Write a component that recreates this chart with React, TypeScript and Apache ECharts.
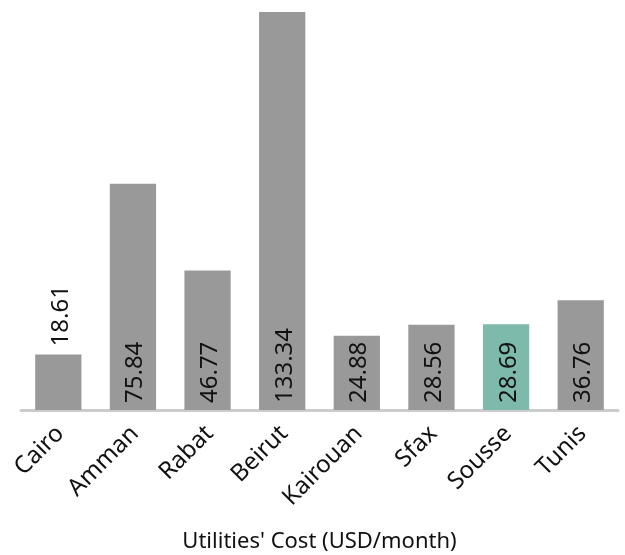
import React, { useEffect, useRef } from "react";
import * as echarts from "echarts";

const cities = ["Cairo", "Amman", "Rabat", "Beirut", "Kairouan", "Sfax", "Sousse", "Tunis"];
const costs = [18.61, 75.84, 46.77, 133.34, 24.88, 28.56, 28.69, 36.76];
const highlightCity = "Sousse";
const axisTitle = "Utilities' Cost (USD/month)";

export default function App() {
  const ref = useRef<HTMLDivElement>(null);
  useEffect(() => {
    if (!ref.current) return;
    const chart = echarts.init(ref.current, null, { renderer: "svg" });
    const font = "'Noto Sans', sans-serif";
    chart.setOption({
      animation: false,
      grid: {
        left: 21,
        right: 7,
        top: 12,
        bottom: 145,
        containLabel: false,
        outerBoundsMode: "none",
      },
      xAxis: {
        type: "category",
        data: cities,
        axisLine: { show: true, lineStyle: { color: "#cccccc", width: 3 } },
        axisTick: { show: false },
        axisLabel: {
          rotate: 45,
          margin: 18,
          fontSize: 24,
          color: "#111",
          fontFamily: font,
          interval: 0,
        },
        name: axisTitle,
        nameLocation: "middle",
        nameGap: 118,
        nameTextStyle: { fontSize: 22, color: "#111", fontFamily: font },
      },
      yAxis: {
        type: "value",
        min: 0,
        max: 133.34,
        show: false,
        splitLine: { show: false },
      },
      series: [
        {
          type: "bar",
          barCategoryGap: "38%",
          data: costs.map((v, i) => {
            const small = v < 20;
            return {
              value: v,
              itemStyle: { color: cities[i] === highlightCity ? "#7dbaab" : "#999999" },
              label: small
                ? {
                    show: true,
                    position: "top",
                    rotate: 90,
                    align: "left",
                    verticalAlign: "middle",
                    distance: 8,
                  }
                : {
                    show: true,
                    position: "insideBottom",
                    rotate: 90,
                    align: "left",
                    verticalAlign: "middle",
                    distance: 7,
                  },
            };
          }),
          label: {
            show: true,
            fontSize: 24,
            color: "#111",
            fontFamily: font,
            formatter: (p: any) => p.value.toFixed(2),
          },
        },
      ],
    });
    return () => chart.dispose();
  }, []);
  return (
    <div
      ref={ref}
      style={{ position: "fixed", left: 0, top: 0, width: 625, height: 555 }}
    />
  );
}
